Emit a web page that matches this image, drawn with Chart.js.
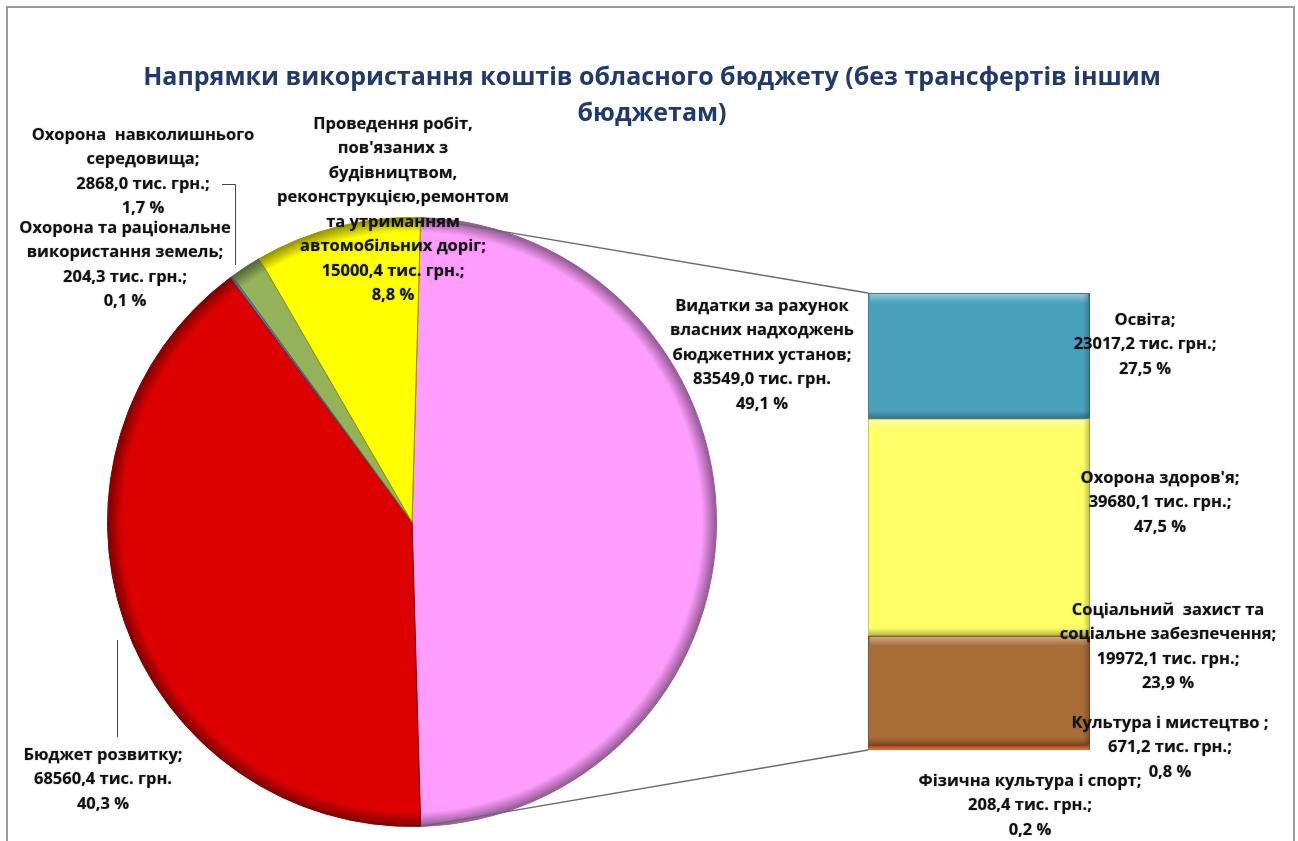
<!DOCTYPE html>
<html>
<head>
<meta charset="utf-8">
<script src="https://cdn.jsdelivr.net/npm/chart.js@4.4.1/dist/chart.umd.min.js"></script>
<style>
  body { margin: 0; background: #fff; }
  #wrap { position: relative; width: 1298px; height: 841px; }
  #wrap canvas { position: absolute; left: 0; top: 0; }
</style>
</head>
<body>
<div id="wrap">
  <canvas id="pie" width="1298" height="841"></canvas>
  <canvas id="bar" width="1298" height="841"></canvas>
</div>
<script>
// --- data (тис. грн.) ---
var pieNames = [
  ["Видатки за рахунок", "власних надходжень", "бюджетних установ;"],
  ["Бюджет розвитку;"],
  ["Охорона та раціональне", "використання земель;"],
  ["Охорона  навколишнього", "середовища;"],
  ["Проведення робіт,", "пов'язаних з", "будівництвом,", "реконструкцією,ремонтом", "та утриманням", "автомобільних доріг;"]
];
var pieValues = [83549.0, 68560.4, 204.3, 2868.0, 15000.4];
var pieColors = ["#ff9dff", "#dd0000", "#4f81bd", "#93b25a", "#ffff00"];

var barNames = [
  ["Освіта;"],
  ["Охорона здоров'я;"],
  ["Соціальний  захист та", "соціальне забезпечення;"],
  ["Культура і мистецтво ;"],
  ["Фізична культура і спорт;"]
];
var barValues = [23017.2, 39680.1, 19972.1, 671.2, 208.4];
var barColors = ["#4aa1bc", "#ffff66", "#a86c37", "#c4512a", "#e46c0a"];

var titleLines = ["Напрямки використання коштів обласного бюджету (без трансфертів іншим", "бюджетам)"];

// label layout: centre x, first line y, semicolon after value?
var pieLabelPos = [
  { x: 762, y: 306, semi: false },
  { x: 103, y: 755, semi: false },
  { x: 125, y: 228, semi: true },
  { x: 143, y: 135, semi: true },
  { x: 393, y: 124, semi: true }
];
var barLabelPos = [
  { x: 1145, y: 320 },
  { x: 1160, y: 478 },
  { x: 1168, y: 610 },
  { x: 1170, y: 723 },
  { x: 1030, y: 781 }
];

function sum(a) { return a.reduce(function (s, v) { return s + v; }, 0); }
var pieTotal = sum(pieValues);
var barTotal = sum(barValues);

function fmt(v) { return v.toFixed(1).replace('.', ','); }

function shade(hex, f) {
  var n = parseInt(hex.slice(1), 16);
  var r = (n >> 16) & 255, g = (n >> 8) & 255, b = n & 255;
  r = Math.round(r * f); g = Math.round(g * f); b = Math.round(b * f);
  return 'rgb(' + r + ',' + g + ',' + b + ')';
}

function pieFill(ctx) {
  var base = pieColors[ctx.dataIndex];
  var ch = ctx.chart, a = ch.chartArea;
  if (!a) return base;
  var cx = (a.left + a.right) / 2, cy = (a.top + a.bottom) / 2;
  var r = Math.min(a.right - a.left, a.bottom - a.top) / 2;
  var g = ch.ctx.createRadialGradient(cx, cy, 0, cx, cy, r);
  g.addColorStop(0, base);
  g.addColorStop(0.95, base);
  g.addColorStop(1, shade(base, 0.55));
  return g;
}

var pieChart = new Chart(document.getElementById('pie'), {
  type: 'pie',
  data: {
    labels: pieNames.map(function (n) { return n.join(' '); }),
    datasets: [{
      data: pieValues,
      backgroundColor: pieFill,
      borderColor: pieColors.map(function (c) { return shade(c, 0.6); }),
      borderWidth: 1
    }]
  },
  options: {
    responsive: false,
    animation: false,
    // Excel pie-of-bar: the "other" slice is centred on the right side
    rotation: 90 - pieValues[0] / pieTotal * 180,
    layout: { padding: { left: 107, right: 581, top: 217, bottom: 14 } },
    plugins: { legend: { display: false }, tooltip: { enabled: false } }
  }
});

var barDatasets = [];
for (var i = barValues.length - 1; i >= 0; i--) {
  barDatasets.push({
    label: barNames[i].join(' '),
    data: [barValues[i]],
    backgroundColor: barColors[i],
    borderColor: shade(barColors[i], 0.7),
    borderWidth: 1
  });
}

function drawLines(ctx, lines, x, y, lh) {
  for (var k = 0; k < lines.length; k++) ctx.fillText(lines[k], x, y + k * lh);
}

var overlay = {
  id: 'overlay',
  afterDatasetsDraw: function (chart) {
    var ctx = chart.ctx;
    ctx.save();

    // bevel on bar segments
    chart.data.datasets.forEach(function (ds, di) {
      var el = chart.getDatasetMeta(di).data[0];
      var h = el.base - el.y, l = el.x - el.width / 2, w = el.width;
      if (h < 8) return;
      var gt = ctx.createLinearGradient(0, el.y, 0, el.y + 10);
      gt.addColorStop(0, 'rgba(255,255,255,0.45)');
      gt.addColorStop(1, 'rgba(255,255,255,0)');
      ctx.fillStyle = gt;
      ctx.fillRect(l + 2, el.y + 1, w - 4, 10);
      var gb = ctx.createLinearGradient(0, el.base - 8, 0, el.base);
      gb.addColorStop(0, 'rgba(0,0,0,0)');
      gb.addColorStop(1, 'rgba(0,0,0,0.3)');
      ctx.fillStyle = gb;
      ctx.fillRect(l + 1, el.base - 8, w - 2, 8);
      var gr = ctx.createLinearGradient(l + w - 7, 0, l + w, 0);
      gr.addColorStop(0, 'rgba(0,0,0,0)');
      gr.addColorStop(1, 'rgba(0,0,0,0.25)');
      ctx.fillStyle = gr;
      ctx.fillRect(l + w - 7, el.y + 1, 7, h - 2);
    });

    // connector lines from the "other" slice to the bar
    var arc = pieChart.getDatasetMeta(0).data[0];
    var top = chart.getDatasetMeta(chart.data.datasets.length - 1).data[0];
    var bot = chart.getDatasetMeta(0).data[0];
    var r = arc.outerRadius;
    ctx.strokeStyle = '#6a6a6a';
    ctx.lineWidth = 1.5;
    ctx.beginPath();
    ctx.moveTo(arc.x + r * Math.cos(arc.startAngle), arc.y + r * Math.sin(arc.startAngle));
    ctx.lineTo(top.x - top.width / 2, top.y);
    ctx.moveTo(arc.x + r * Math.cos(arc.endAngle), arc.y + r * Math.sin(arc.endAngle));
    ctx.lineTo(bot.x - bot.width / 2, bot.base);
    ctx.stroke();

    // leader lines
    ctx.strokeStyle = '#444';
    ctx.lineWidth = 1;
    ctx.beginPath();
    ctx.moveTo(222, 184.5); ctx.lineTo(235.5, 184.5); ctx.lineTo(235.5, 265);
    ctx.moveTo(117.5, 640); ctx.lineTo(117.5, 737);
    ctx.stroke();

    // frame
    ctx.strokeStyle = '#9c9c9c';
    ctx.lineWidth = 2;
    ctx.beginPath();
    ctx.moveTo(7, 841); ctx.lineTo(7, 7); ctx.lineTo(1294, 7); ctx.lineTo(1294, 841);
    ctx.stroke();

    // title
    ctx.textAlign = 'center';
    ctx.textBaseline = 'middle';
    ctx.fillStyle = '#1f3a6e';
    ctx.font = 'bold 25px "Open Sans"';
    drawLines(ctx, titleLines, 652, 78, 36);

    // data labels
    ctx.fillStyle = '#111';
    ctx.shadowColor = 'rgba(0,0,0,0.35)';
    ctx.shadowBlur = 1.5;
    ctx.font = 'bold 16.5px "Open Sans"';
    pieNames.forEach(function (n, k) {
      var p = pieLabelPos[k];
      var lines = n.concat([fmt(pieValues[k]) + ' тис. грн.' + (p.semi ? ';' : ''),
                            fmt(pieValues[k] / pieTotal * 100) + ' %']);
      drawLines(ctx, lines, p.x, p.y, 24.5);
    });
    barNames.forEach(function (n, k) {
      var p = barLabelPos[k];
      var lines = n.concat([fmt(barValues[k]) + ' тис. грн.;',
                            fmt(barValues[k] / barTotal * 100) + ' %']);
      drawLines(ctx, lines, p.x, p.y, 24.5);
    });
    ctx.restore();
  }
};

var barChart = new Chart(document.getElementById('bar'), {
  type: 'bar',
  data: { labels: [''], datasets: barDatasets },
  options: {
    responsive: false,
    animation: false,
    layout: { padding: { left: 868, right: 208, top: 293, bottom: 91 } },
    datasets: { bar: { barPercentage: 1, categoryPercentage: 1 } },
    scales: {
      x: { stacked: true, display: false },
      y: { stacked: true, display: false, min: 0, max: barTotal }
    },
    plugins: { legend: { display: false }, tooltip: { enabled: false } }
  },
  plugins: [overlay]
});
</script>
</body>
</html>
